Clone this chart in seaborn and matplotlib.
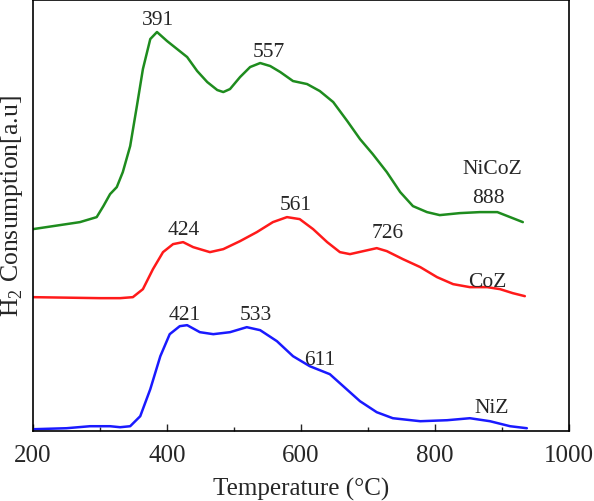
import numpy as np
import pandas as pd
import seaborn as sns
import matplotlib.pyplot as plt
from matplotlib.ticker import MultipleLocator

# temperature (°C) and signal (arbitrary units)
nicoz_t = [200, 240, 270, 285, 295, 305, 315, 325, 334, 345, 355, 364, 375, 385,
           400, 415, 430, 445, 460, 475, 484, 494, 509, 524, 539, 554, 569, 588,
           609, 628, 648, 669, 688, 707, 728, 748, 767, 788, 807, 837, 867, 893,
           912, 931]
nicoz_y = [202, 206, 209, 212, 214, 225, 237, 244, 259, 285, 325, 362, 392, 399,
           390, 382, 374, 360, 349, 341, 339, 342, 354, 364, 368, 365, 359, 350,
           347, 340, 329, 310, 292, 277, 259, 239, 225, 219, 216, 218, 219, 219,
           214, 209]

coz_t = [200, 300, 330, 349, 364, 379, 394, 409, 424, 439, 464, 484, 509, 534,
         558, 579, 598, 618, 639, 658, 673, 693, 713, 728, 752, 778, 803, 827,
         852, 878, 897, 916, 934]
coz_y = [134, 133, 133, 134, 142, 162, 179, 187, 189, 184, 179, 182, 190, 199,
         209, 214, 212, 202, 189, 179, 177, 180, 183, 180, 172, 164, 154, 147,
         144, 144, 142, 138, 135]

niz_t = [200, 250, 285, 315, 330, 345, 360, 375, 390, 404, 419, 430, 449, 469,
         494, 519, 539, 564, 588, 613, 643, 663, 688, 713, 737, 778, 818, 852,
         882, 912, 937]
niz_y = [2, 3, 5, 5, 4, 5, 15, 42, 75, 97, 105, 106, 99, 97,
         99, 104, 101, 90, 75, 65, 57, 45, 30, 19, 13, 10, 11, 13,
         10, 5, 3]

names = ["NiCoZ", "CoZ", "NiZ"]
colors = ["#1e8c1e", "#ff1a1a", "#1a1aff"]

peak_t = [391, 557, 888, 424, 561, 726, 421, 533, 611]
peak_x = [387, 552, 880, 425, 592, 730, 426, 533, 628]
peak_y = [412, 380, 234, 202, 227, 199, 117, 117, 72]

name_x = [885, 878, 885]
name_y = [263, 150, 24]

sns.set_style("ticks")
plt.rcParams['font.family'] = ['Liberation Serif', 'DejaVu Serif']
plt.rcParams['mathtext.fontset'] = 'custom'
plt.rcParams['mathtext.rm'] = 'Liberation Serif'

frames = []
for n, t, y in zip(names, [nicoz_t, coz_t, niz_t], [nicoz_y, coz_y, niz_y]):
    frames.append(pd.DataFrame({"T": t, "signal": y, "sample": n}))
df = pd.concat(frames, ignore_index=True)

fig = plt.figure(figsize=(5.94, 5.02), dpi=100)
ax = fig.add_axes([0.0556, 0.139, 0.9024, 0.859])

sns.lineplot(data=df, x="T", y="signal", hue="sample", palette=colors,
             hue_order=names, linewidth=1.8, sort=False, legend=False, ax=ax)

for lab, x, y in zip(peak_t, peak_x, peak_y):
    ax.text(x, y, str(lab), fontsize=15.5, ha="center", va="center")
for n, x, y in zip(names, name_x, name_y):
    ax.text(x, y, n, fontsize=15.5, ha="center", va="center")

ax.set_xlim(200, 1000)
ax.set_ylim(0, 431)
ax.xaxis.set_major_locator(MultipleLocator(200))
ax.xaxis.set_minor_locator(MultipleLocator(100))
ax.set_yticks([])
ax.tick_params(axis="x", which="major", direction="in", length=5, width=1,
               labelsize=18, pad=9)
ax.tick_params(axis="x", which="minor", direction="in", length=3, width=1)
for s in ax.spines.values():
    s.set_linewidth(1.2)
    s.set_color("black")

ax.set_xlabel("Temperature (\u00b0C)", fontsize=18, labelpad=8)
ax.set_ylabel("H$_2$ Consumption[a.u]", fontsize=18.5)
ax.yaxis.set_label_coords(-0.015, 0.524)

fig.savefig("out.png", dpi=100)
